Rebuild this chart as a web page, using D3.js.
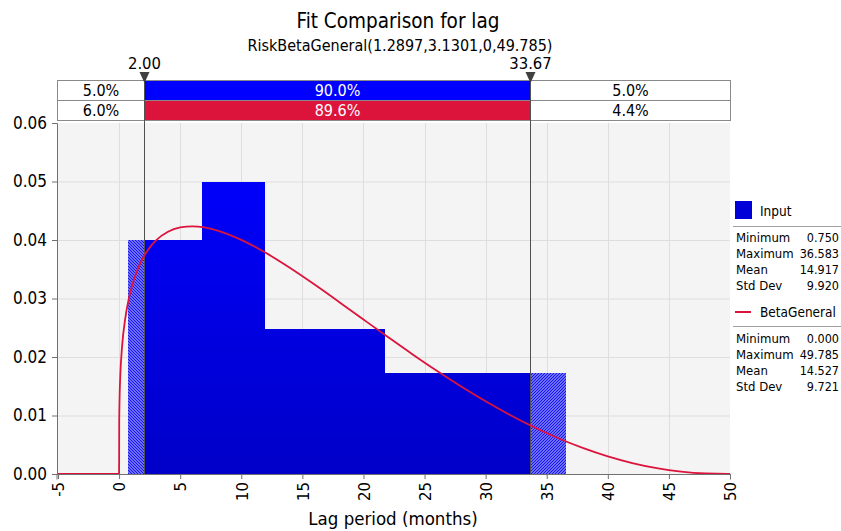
<!DOCTYPE html>
<html><head><meta charset="utf-8">
<script src="https://cdn.jsdelivr.net/npm/d3@7"></script>
<style>
body{margin:0;background:#fff;}
svg{display:block;font-family:'DejaVu Sans Condensed','Liberation Sans',sans-serif;}
</style></head>
<body><svg id="c" width="841" height="531"></svg>
<script>
// ---- data ----
const titleText = "Fit Comparison for lag";
const subtitleText = "RiskBetaGeneral(1.2897,3.1301,0,49.785)";
const xLabel = "Lag period (months)";
const binEdges = [0.75, 6.8, 11.9, 21.75, 36.583];
const binDensity = [0.0400, 0.0500, 0.0248, 0.0172];
const markers = [2.00, 33.67];
const markerLabels = ["2.00", "33.67"];
const inputPcts = ["5.0%", "90.0%", "5.0%"];
const fitPcts = ["6.0%", "89.6%", "4.4%"];
const fitX = [-5, 0, 0.01, 0.02, 0.05, 0.1, 0.25, 0.5, 0.75, 1, 1.5, 2, 2.5, 3, 4, 5, 6, 7, 8, 10, 12, 14, 16, 18, 20, 22, 24, 26, 28, 30, 32, 34, 36, 38, 40, 42, 44, 46, 48, 49.785, 50];
const fitY = [0, 0, 0.00872, 0.01066, 0.01388, 0.01693, 0.02194, 0.02652, 0.02951, 0.03172, 0.03490, 0.03710, 0.03870, 0.03989, 0.04141, 0.04214, 0.04234, 0.04215, 0.04166, 0.04003, 0.03781, 0.03521, 0.03238, 0.02942, 0.02641, 0.02342, 0.02048, 0.01765, 0.01496, 0.01243, 0.01009, 0.007966, 0.006068, 0.004420, 0.003015, 0.001879, 0.001012, 0.000415, 0.0000848, 0, 0];
const xTicks = [-5, 0, 5, 10, 15, 20, 25, 30, 35, 40, 45, 50];
const yTicks = [0, 0.01, 0.02, 0.03, 0.04, 0.05, 0.06];
const inputName = "Input";
const fitName = "BetaGeneral";
const inputStats = [["Minimum", "0.750"], ["Maximum", "36.583"], ["Mean", "14.917"], ["Std Dev", "9.920"]];
const fitStats = [["Minimum", "0.000"], ["Maximum", "49.785"], ["Mean", "14.527"], ["Std Dev", "9.721"]];

// ---- layout ----
const L = 57, R = 730, T = 123, B = 474;
const svg = d3.select("#c");
const x = d3.scaleLinear().domain([-5, 50]).range([58, R]);
const y = d3.scaleLinear().domain([0, 0.06]).range([B, T]);
const BLUE = "#0000ff", RED = "#dc143c", GRID = "#dedede", AX = "#707070";
const FONT = "'DejaVu Sans Condensed','Liberation Sans',sans-serif";

const defs = svg.append("defs");
const grad = defs.append("linearGradient").attr("id", "bg").attr("gradientUnits", "userSpaceOnUse")
  .attr("x1", 0).attr("x2", 0).attr("y1", y(0.05)).attr("y2", y(0));
grad.append("stop").attr("offset", 0).attr("stop-color", "#0000fa");
grad.append("stop").attr("offset", 1).attr("stop-color", "#0000c8");
function hatch(id, dir) {
  const p = defs.append("pattern").attr("id", id).attr("patternUnits", "userSpaceOnUse")
    .attr("width", 3).attr("height", 3);
  p.append("rect").attr("width", 3).attr("height", 3).attr("fill", "#9898ff");
  if (dir > 0) {
    p.append("path").attr("d", "M-1,1 l2,-2 M0,3 l3,-3 M2,4 l2,-2").attr("stroke", "#1010f0").attr("stroke-width", 1.2);
  } else {
    p.append("path").attr("d", "M-1,2 l2,2 M0,0 l3,3 M2,-1 l2,2").attr("stroke", "#1010f0").attr("stroke-width", 1.2);
  }
}
hatch("hL", -1); hatch("hR", 1);

// titles
svg.append("text").attr("x", 398).attr("y", 28).attr("text-anchor", "middle")
  .attr("font-size", 20.5).attr("fill", "#000").text(titleText);
svg.append("text").attr("x", 400).attr("y", 51).attr("text-anchor", "middle")
  .attr("font-size", 16).attr("fill", "#000").text(subtitleText);

// plot bg
svg.append("rect").attr("x", L).attr("y", T).attr("width", R - L).attr("height", B - T).attr("fill", "#f4f4f4");
// grid
svg.append("g").selectAll("line").data(xTicks.slice(1, -1)).join("line")
  .attr("x1", d => Math.round(x(d)) + 0.5).attr("x2", d => Math.round(x(d)) + 0.5).attr("y1", T).attr("y2", B)
  .attr("stroke", GRID).attr("stroke-width", 1);
svg.append("g").selectAll("line").data(yTicks.slice(1, -1)).join("line")
  .attr("y1", d => y(d) + 0.5).attr("y2", d => y(d) + 0.5).attr("x1", L).attr("x2", R)
  .attr("stroke", GRID).attr("stroke-width", 1);

// histogram
const bins = binDensity.map((v, i) => ({ lo: binEdges[i], hi: binEdges[i + 1], v }));
const regions = [
  { a: -Infinity, b: markers[0], fill: "url(#hL)" },
  { a: markers[0], b: markers[1], fill: "url(#bg)" },
  { a: markers[1], b: Infinity, fill: "url(#hR)" }
];
const hg = svg.append("g");
regions.forEach(r => {
  bins.forEach(bn => {
    const lo = Math.max(bn.lo, r.a), hi = Math.min(bn.hi, r.b);
    if (hi > lo) {
      hg.append("rect").attr("x", x(lo)).attr("y", y(bn.v))
        .attr("width", x(hi) - x(lo) + 0.4).attr("height", y(0) - y(bn.v))
        .attr("fill", r.fill).attr("shape-rendering", "crispEdges");
    }
  });
});

// marker lines
svg.append("g").selectAll("line").data(markers).join("line")
  .attr("x1", d => Math.round(x(d)) + 0.5).attr("x2", d => Math.round(x(d)) + 0.5)
  .attr("y1", 80).attr("y2", B).attr("stroke", "#505050").attr("stroke-width", 1);

// fit curve
const line = d3.line().x((d, i) => x(fitX[i])).y((d, i) => y(fitY[i])).curve(d3.curveMonotoneX);
svg.append("path").datum(fitY).attr("d", line).attr("fill", "none")
  .attr("stroke", RED).attr("stroke-width", 1.8);

// axes
const ya = svg.append("g").attr("transform", `translate(${L},0)`)
  .call(d3.axisLeft(y).tickValues(yTicks).tickFormat(d3.format(".2f")).tickSize(5).tickPadding(5));
const xa = svg.append("g").attr("transform", `translate(0,${B})`)
  .call(d3.axisBottom(x).tickValues(xTicks).tickFormat(d => d).tickSize(5).tickPadding(4));
xa.select(".domain").attr("d", `M${L},5.5V0.5H${R}.5V5.5`);
[ya, xa].forEach(g => {
  g.select(".domain").attr("stroke", AX);
  g.selectAll(".tick line").attr("stroke", AX);
  g.selectAll("text").attr("font-family", FONT).attr("fill", "#000");
});
ya.selectAll("text").attr("font-size", 17);
xa.selectAll("text").attr("font-size", 16.5);
xa.selectAll(".tick text").attr("transform", "rotate(-90)").attr("text-anchor", "end")
  .attr("x", -8).attr("y", 0).attr("dy", "0.35em");
svg.append("text").attr("x", 393).attr("y", 525).attr("text-anchor", "middle")
  .attr("font-size", 18.5).attr("fill", "#000").text(xLabel);

// top probability bars
const cellsX = [L, x(markers[0]), x(markers[1]), R];
function row(vals, y0, mid) {
  vals.forEach((t, i) => {
    const x0 = Math.round(cellsX[i]) + 0.5, x1 = Math.round(cellsX[i + 1]) + 0.5;
    svg.append("rect").attr("x", x0).attr("y", y0 + 0.5).attr("width", x1 - x0).attr("height", 20)
      .attr("fill", i === 1 ? mid : "#fff").attr("stroke", "#8a8a8a").attr("stroke-width", 1);
    svg.append("text").attr("x", (x0 + x1) / 2).attr("y", y0 + 16).attr("text-anchor", "middle")
      .attr("font-size", 16).attr("fill", i === 1 ? "#fff" : "#000").text(t);
  });
}
row(inputPcts, 80, BLUE);
row(fitPcts, 100, RED);
svg.append("g").selectAll("line").data(markers).join("line")
  .attr("x1", d => Math.round(x(d)) + 0.5).attr("x2", d => Math.round(x(d)) + 0.5)
  .attr("y1", 80).attr("y2", 121).attr("stroke", "#505050");
// marker triangles + labels
markers.forEach((m, i) => {
  const cx = Math.round(x(m)) + 0.5;
  svg.append("path").attr("d", `M${cx - 5},72 L${cx + 5},72 L${cx},83 Z`).attr("fill", "#404040");
  svg.append("text").attr("x", cx).attr("y", 69).attr("text-anchor", "middle")
    .attr("font-size", 16.5).attr("fill", "#000").text(markerLabels[i]);
});

// legend
const lg = svg.append("g").attr("font-size", 13.5);
lg.append("rect").attr("x", 735).attr("y", 201).attr("width", 17).attr("height", 18).attr("fill", "#0000d8");
lg.append("text").attr("x", 760).attr("y", 215.5).text(inputName);
lg.append("line").attr("x1", 733).attr("x2", 841).attr("y1", 226.5).attr("y2", 226.5).attr("stroke", "#a0a0a0");
inputStats.forEach((s, i) => {
  lg.append("text").attr("x", 736).attr("y", 242 + i * 16).attr("font-size", 13).text(s[0]);
  lg.append("text").attr("x", 839).attr("y", 242 + i * 16).attr("font-size", 12.5).attr("text-anchor", "end").text(s[1]);
});
lg.append("line").attr("x1", 735).attr("x2", 751).attr("y1", 312).attr("y2", 312).attr("stroke", RED).attr("stroke-width", 2);
lg.append("text").attr("x", 760).attr("y", 316.5).text(fitName);
lg.append("line").attr("x1", 733).attr("x2", 841).attr("y1", 326.5).attr("y2", 326.5).attr("stroke", "#a0a0a0");
fitStats.forEach((s, i) => {
  lg.append("text").attr("x", 736).attr("y", 343 + i * 16).attr("font-size", 13).text(s[0]);
  lg.append("text").attr("x", 839).attr("y", 343 + i * 16).attr("font-size", 12.5).attr("text-anchor", "end").text(s[1]);
});
</script></body></html>
